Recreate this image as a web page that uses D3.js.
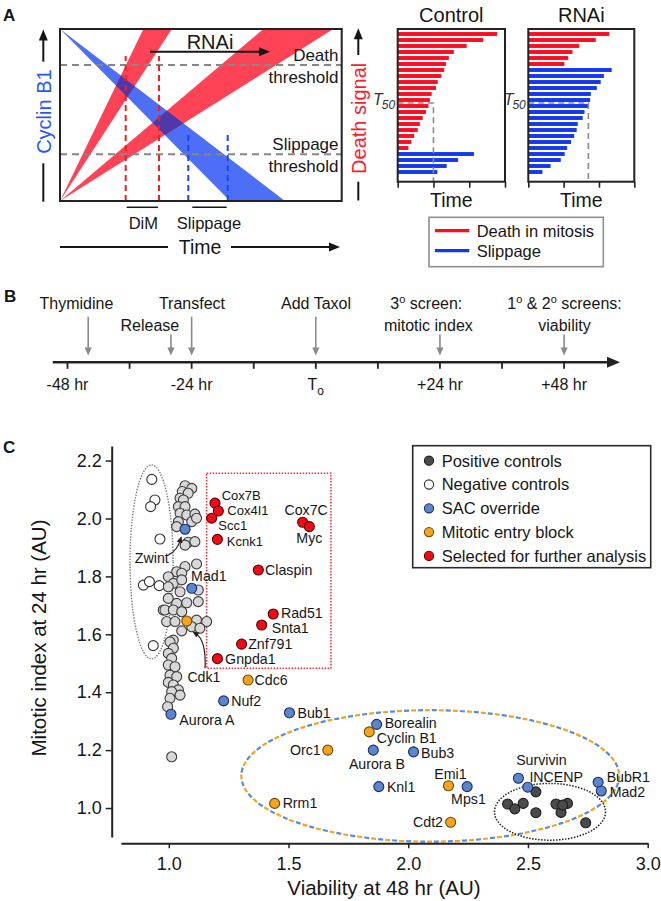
<!DOCTYPE html>
<html>
<head>
<meta charset="utf-8">
<script src="https://cdn.jsdelivr.net/npm/d3@7/dist/d3.min.js"></script>
<style>
html,body{margin:0;padding:0;background:#fff;}
svg{display:block;}
</style>
</head>
<body>
<svg id="fig" width="661" height="901" xmlns="http://www.w3.org/2000/svg"></svg>
<script>
// ================= DATA =================
// Panel A schematic (model units: time 0-1, level 0-1)
const cyclinB1BandEnd = [0.6035, 0.7987];   // time where cyclin B1 band reaches level 0
const deathBandFast = [0.296, 0.397];       // time where fast death band reaches level 1
const deathBandSlow = [0.722, 0.970];       // time where slow (RNAi) death band reaches level 1
const thresholdLevels = [0.791, 0.2715];    // death, slippage
const thresholdNames = [["Death", "threshold"], ["Slippage", "threshold"]];
const dimTimes = [0.2332, 0.3514];
const dimTop = 0.843;
const slippageTimes = [0.4554, 0.5953];
const slippageTop = 0.3837;
const rnaiShift = [0.3195, 0.7455];
const rnaiLevel = 0.868;

// Panel A bar charts (time to fate, AU 0-3)
const timeTicks = [0, 1, 2, 3];
const controlDeath = [2.78, 2.39, 1.93, 1.57, 1.43, 1.35, 1.30, 1.22, 1.12, 1.07, 0.95, 0.90, 0.86, 0.79, 0.70, 0.62, 0.56, 0.46, 0.38, 0.30];
const controlSlip = [2.13, 1.69, 1.37, 1.11];
const rnaiDeath = [2.29, 1.91, 1.44, 1.25, 1.13, 1.02];
const rnaiSlip = [2.36, 2.14, 2.05, 1.94, 1.77, 1.75, 1.71, 1.59, 1.54, 1.40, 1.37, 1.30, 1.21, 1.10, 1.03, 0.92, 0.63, 0.40];
const t50Values = [1.0, 1.70];
const fateNames = ["Death in mitosis", "Slippage"];

// Panel B timeline (hours)
const timelineTicks = [-48, -36, -24, -12, 0, 12, 24, 36, 48];
const timelineLabels = [[-48, "-48 hr"], [-24, "-24 hr"], [0, "T{o}"], [24, "+24 hr"], [48, "+48 hr"]];
const eventHours = [-44, -28, -24, 0, 24, 48];
const eventLabels = [["Thymidine"], [null, "Release"], ["Transfect"], ["Add Taxol"], ["3^o screen:", "mitotic index"], ["1^o & 2^o screens:", "viability"]];

// Panel C scatter: [viability at 48 hr, mitotic index at 24 hr]
const screenHits = [
  [1.068,2.113],[1.096,2.104],[1.056,2.093],[1.081,2.087],[1.047,2.070],[1.061,2.064],[1.040,2.041],[1.068,2.041],
  [1.047,2.018],[1.075,2.012],[1.109,2.015],[1.040,1.989],[1.096,1.989],[1.116,2.001],[1.033,1.972],[1.081,1.918],
  [1.109,1.920],[1.068,1.908],
  [1.068,1.834],[1.116,1.843],[1.033,1.816],[1.054,1.811],[0.998,1.799],[1.019,1.776],[1.054,1.788],[0.998,1.764],
  [1.047,1.747],[1.123,1.753],[0.998,1.724],[1.033,1.707],[1.075,1.709],[1.123,1.713],[0.984,1.684],[1.019,1.684],
  [1.054,1.678],[0.991,1.644],[1.026,1.644],[1.116,1.649],[1.158,1.644],[1.054,1.612],[1.096,1.626],[1.130,1.621],
  [1.019,1.580],
  [1.005,1.574],[1.019,1.552],[0.998,1.534],[1.012,1.517],[0.998,1.494],[1.026,1.488],[1.005,1.459],[1.033,1.454],
  [0.998,1.434],[1.019,1.425],[1.040,1.408],[1.012,1.402],[1.047,1.390],[1.005,1.379],[0.995,1.350],[1.012,1.177]
];
const negativeControls = [[0.929,2.135],[0.942,2.064],[0.924,2.041],[0.963,1.929],[0.894,1.770],[0.919,1.782],[0.960,1.768],[0.977,1.684],[0.935,1.561]];
const positiveControls = [[2.533,1.056],[2.415,1.014],[2.445,0.997],[2.480,1.016],[2.533,0.984],[2.617,1.014],[2.638,0.985],[2.665,1.016],[2.645,1.010],[2.741,0.949]];
const sacOverride = [
  ["Zwint",1.068,1.963],["Mad1",1.096,1.759],["Aurora A",1.009,1.324],["Nuf2",1.229,1.370],["Bub1",1.504,1.329],
  ["Borealin",1.868,1.289],["Aurora B",1.854,1.200],["Bub3",2.022,1.194],["Knl1",1.877,1.074],["Mps1",2.246,1.074],
  ["Survivin",2.460,1.103],["INCENP",2.499,1.072],["BubR1",2.793,1.089],["Mad2",2.806,1.059]
];
const entryBlock = [
  ["Cdk1",1.075,1.646],["Cdc6",1.331,1.442],["Cyclin B1",1.837,1.263],["Orc1",1.664,1.200],["Emi1",2.168,1.077],
  ["Rrm1",1.442,1.016],["Cdt2",2.177,0.951]
];
const selected = [
  ["Cox7B",1.193,2.053],["Cox4I1",1.207,2.026],["Scc1",1.179,2.001],["Kcnk1",1.203,1.928],["Cox7C",1.559,1.987],
  ["Myc",1.587,1.972],["Claspin",1.374,1.822],["Rad51",1.436,1.670],["Snta1",1.388,1.632],["Znf791",1.304,1.566],
  ["Gnpda1",1.203,1.516]
];
const xTicksC = [1.0, 1.5, 2.0, 2.5, 3.0];
const yTicksC = [1.0, 1.2, 1.4, 1.6, 1.8, 2.0, 2.2];
const legendNamesC = ["Positive controls", "Negative controls", "SAC override", "Mitotic entry block", "Selected for further analysis"];
// annotation regions (data units): [cx, cy, rx, ry]
const negRegion = [0.928, 1.850, 0.0898, 0.335];
const posRegion = [2.592, 0.987, 0.232, 0.098];
const slowRegion = [2.092, 1.111, 0.789, 0.227];
const selRegion = [1.158, 1.677, 1.483, 2.156]; // x0, x1, y0, y1

// ================= STYLE / LAYOUT =================
const F = '"Liberation Sans", Arial, Helvetica, sans-serif';
const INK = "#161616";
const svg = d3.select("#fig").attr("font-family", F);
svg.append("rect").attr("width", 661).attr("height", 901).attr("fill", "#fff");
const defs = svg.append("defs");

function tri(g, tx, ty, dx, dy, len, hw, fill) {
  const n = Math.hypot(dx, dy), ux = dx / n, uy = dy / n;
  const bx = tx - ux * len, by = ty - uy * len, px = -uy, py = ux;
  g.append("path").attr("d", `M${tx},${ty}L${bx + px * hw},${by + py * hw}L${bx - px * hw},${by - py * hw}Z`).attr("fill", fill);
}
function text(g, x, y, s, size, opts = {}) {
  return g.append("text").attr("x", x).attr("y", y).attr("font-size", size)
    .attr("text-anchor", opts.anchor || "start").attr("fill", opts.fill || INK)
    .attr("font-weight", opts.weight || "normal").attr("font-style", opts.style || "normal").text(s);
}

// Panel labels
text(svg, 3, 20.7, "A", 17, {weight: "bold"});
text(svg, 4, 301.7, "B", 17, {weight: "bold"});
text(svg, 3, 453.3, "C", 17, {weight: "bold"});

// ================= PANEL A (schematic) =================
const aX = d3.scaleLinear().domain([0, 1]).range([60, 341.7]);
const aY = d3.scaleLinear().domain([0, 1]).range([201, 29]);
const RED = "#ff4357", BLUE = "#4d6ff6", PURPLE = "#4e39aa";
const poly = pts => "M" + pts.map(p => aX(p[0]) + "," + aY(p[1])).join("L") + "Z";
defs.append("clipPath").attr("id", "clipA").append("rect")
  .attr("x", aX(0)).attr("y", aY(1)).attr("width", aX(1) - aX(0)).attr("height", aY(0) - aY(1));
const bluePts = [[0, 1], [cyclinB1BandEnd[0], 0], [cyclinB1BandEnd[1], 0]];
defs.append("clipPath").attr("id", "clipBlue").append("path").attr("d", poly(bluePts));
const redPolys = [deathBandFast, deathBandSlow].map(b => [[0, 0], [b[0], 1], [b[1], 1]]);
const gA = svg.append("g").attr("clip-path", "url(#clipA)");
gA.append("path").attr("d", poly(bluePts)).attr("fill", BLUE);
redPolys.forEach(p => gA.append("path").attr("d", poly(p)).attr("fill", RED));
const ov = gA.append("g").attr("clip-path", "url(#clipBlue)");
redPolys.forEach(p => ov.append("path").attr("d", poly(p)).attr("fill", PURPLE));

thresholdLevels.forEach((t, i) => {
  svg.append("line").attr("x1", aX(0)).attr("x2", aX(1)).attr("y1", aY(t)).attr("y2", aY(t))
    .attr("stroke", "#878787").attr("stroke-width", 2).attr("stroke-dasharray", "7,5");
  text(svg, 338.5, aY(t) - 3.9, thresholdNames[i][0], 17, {anchor: "end"});
  text(svg, 338.5, aY(t) + 17.8, thresholdNames[i][1], 17, {anchor: "end"});
});
dimTimes.forEach(t => svg.append("line").attr("x1", aX(t)).attr("x2", aX(t)).attr("y1", aY(0)).attr("y2", aY(dimTop))
  .attr("stroke", "#ff1a1a").attr("stroke-width", 2).attr("stroke-dasharray", "6,4"));
slippageTimes.forEach(t => svg.append("line").attr("x1", aX(t)).attr("x2", aX(t)).attr("y1", aY(0)).attr("y2", aY(slippageTop))
  .attr("stroke", "#1a45ff").attr("stroke-width", 2).attr("stroke-dasharray", "6,4"));
svg.append("rect").attr("x", aX(0)).attr("y", aY(1)).attr("width", aX(1) - aX(0)).attr("height", aY(0) - aY(1))
  .attr("fill", "none").attr("stroke", "#222").attr("stroke-width", 2);
// RNAi arrow
svg.append("line").attr("x1", aX(rnaiShift[0])).attr("x2", aX(rnaiShift[1]) - 8).attr("y1", aY(rnaiLevel)).attr("y2", aY(rnaiLevel))
  .attr("stroke", INK).attr("stroke-width", 2);
tri(svg, aX(rnaiShift[1]), aY(rnaiLevel), 1, 0, 11, 4.5, INK);
text(svg, (aX(rnaiShift[0]) + aX(rnaiShift[1])) / 2, aY(rnaiLevel) - 2.8, "RNAi", 20, {anchor: "middle"});
// DiM / Slippage brackets
[[dimTimes, "DiM", 1], [slippageTimes, "Slippage", 4]].forEach(([ts, lab, inset]) => {
  svg.append("line").attr("x1", aX(ts[0]) + inset).attr("x2", aX(ts[1]) - 1).attr("y1", 207.3).attr("y2", 207.3)
    .attr("stroke", INK).attr("stroke-width", 1.5);
  text(svg, (aX(ts[0]) + aX(ts[1])) / 2 + 1, 229.2, lab, 16.5, {anchor: "middle"});
});
// Time axis arrow
svg.append("line").attr("x1", 60).attr("x2", 168).attr("y1", 247).attr("y2", 247).attr("stroke", INK).attr("stroke-width", 2);
svg.append("line").attr("x1", 231).attr("x2", 330).attr("y1", 247).attr("y2", 247).attr("stroke", INK).attr("stroke-width", 2);
tri(svg, 340, 247, 1, 0, 11, 4.5, INK);
text(svg, 200, 253.9, "Time", 19.5, {anchor: "middle"});
// Cyclin B1 axis
svg.append("line").attr("x1", 43.3).attr("x2", 43.3).attr("y1", 201.7).attr("y2", 163.3).attr("stroke", INK).attr("stroke-width", 2);
svg.append("line").attr("x1", 43.3).attr("x2", 43.3).attr("y1", 61.7).attr("y2", 38).attr("stroke", INK).attr("stroke-width", 2);
tri(svg, 43.3, 29.5, 0, -1, 11, 4.5, INK);
svg.append("text").attr("transform", "translate(50.5,111.6) rotate(-90)").attr("text-anchor", "middle")
  .attr("font-size", 20).attr("fill", "#1f58ff").text("Cyclin B1");
// Death signal axis
svg.append("line").attr("x1", 358.3).attr("x2", 358.3).attr("y1", 200.5).attr("y2", 181.7).attr("stroke", INK).attr("stroke-width", 2);
svg.append("line").attr("x1", 358.3).attr("x2", 358.3).attr("y1", 55).attr("y2", 37).attr("stroke", INK).attr("stroke-width", 2);
tri(svg, 358.3, 28.3, 0, -1, 11, 4.5, INK);
svg.append("text").attr("transform", "translate(365.5,118.3) rotate(-90)").attr("text-anchor", "middle")
  .attr("font-size", 20).attr("fill", "#ff1a2c").text("Death signal");

// ================= PANEL A (bar charts) =================
const BAR_RED = "#ff0b1f", BAR_BLUE = "#1238f2";
const barY = d3.scaleBand().domain(d3.range(24)).range([31, 175]).paddingInner(0.35).paddingOuter(0.175);
const barPanels = [
  {title: "Control", range: [397.7, 505], death: controlDeath, slip: controlSlip, t50: t50Values[0]},
  {title: "RNAi", range: [528.3, 634.3], death: rnaiDeath, slip: rnaiSlip, t50: t50Values[1]}
];
barPanels.forEach(p => {
  const x = d3.scaleLinear().domain([0, 3]).range(p.range);
  const rows = p.death.map(v => ({v, c: BAR_RED})).concat(p.slip.map(v => ({v, c: BAR_BLUE})));
  const g = svg.append("g");
  g.selectAll("rect.bar").data(rows).join("rect").attr("class", "bar")
    .attr("x", x(0)).attr("y", (d, i) => barY(i)).attr("width", d => x(d.v) - x(0)).attr("height", barY.bandwidth())
    .attr("fill", d => d.c);
  const yT = barY(12) - barY.step() * 0.35 / 2;
  g.append("path").attr("d", `M${x(0)},${yT}H${x(p.t50)}V181.7`).attr("fill", "none")
    .attr("stroke", "#8a8a8a").attr("stroke-width", 1.6).attr("stroke-dasharray", "6,4");
  g.append("rect").attr("x", x(0)).attr("y", 29).attr("width", x(3) - x(0)).attr("height", 152.7)
    .attr("fill", "none").attr("stroke", "#222").attr("stroke-width", 2);
  const ax = d3.axisBottom(x).tickValues(timeTicks).tickSize(6).tickSizeOuter(0).tickFormat("");
  const ga = g.append("g").attr("transform", "translate(0,181.7)").call(ax);
  ga.select(".domain").remove();
  ga.selectAll(".tick line").attr("stroke", "#222").attr("stroke-width", 1.6);
  text(g, (x(0) + x(3)) / 2, 21.7, p.title, 20, {anchor: "middle"});
  text(g, (x(0) + x(3)) / 2, 207, "Time", 19.5, {anchor: "middle"});
  const tl = g.append("text").attr("x", x(0) - 2.5).attr("y", 105).attr("text-anchor", "end")
    .attr("font-style", "italic").attr("fill", "#333").attr("font-size", 16);
  tl.append("tspan").text("T");
  tl.append("tspan").attr("font-size", 12).attr("dy", 4).attr("dx", -1).text("50");
});
// Fate legend
const lg = svg.append("g");
lg.append("rect").attr("x", 429).attr("y", 217.3).attr("width", 174.3).attr("height", 49.4)
  .attr("fill", "#fff").attr("stroke", "#8f8f8f").attr("stroke-width", 1.6);
fateNames.forEach((n, i) => {
  const yy = 230.7 + i * 20;
  lg.append("line").attr("x1", 435).attr("x2", 469.3).attr("y1", yy).attr("y2", yy)
    .attr("stroke", i ? BAR_BLUE : BAR_RED).attr("stroke-width", 3.2);
  text(lg, 476.7, yy + 5.9, n, 16.5);
});

// ================= PANEL B (timeline) =================
const bX = d3.scaleLinear().domain([-48, 48]).range([67.5, 564.1]);
const gB = svg.append("g");
const lineY = 362.3;
gB.append("line").attr("x1", 52.7).attr("x2", 610).attr("y1", lineY).attr("y2", lineY).attr("stroke", "#222").attr("stroke-width", 2.4);
tri(gB, 620, lineY, 1, 0, 13, 5.5, "#222");
timelineTicks.forEach(h => gB.append("line").attr("x1", bX(h)).attr("x2", bX(h)).attr("y1", lineY - 1).attr("y2", lineY + 6.5)
  .attr("stroke", "#222").attr("stroke-width", 1.8));
function richText(el, s, supSize) {
  // "^o" -> superscript o, "{o}" -> subscript o
  const parts = s.split(/(\^o|\{o\})/);
  let raised = false;
  parts.forEach(part => {
    if (part === "^o") { el.append("tspan").attr("font-size", supSize).attr("dy", -6).text("o"); raised = true; }
    else if (part === "{o}") el.append("tspan").attr("font-size", supSize).attr("dy", 5).text("o");
    else if (part.length) {
      const t = el.append("tspan").text(part);
      if (raised) { t.attr("dy", 6); raised = false; }
    }
  });
}
timelineLabels.forEach(([h, s]) => {
  const t = gB.append("text").attr("x", bX(h)).attr("y", 390).attr("text-anchor", "middle").attr("font-size", 16).attr("fill", INK);
  richText(t, s, 12);
});
const eventLabelShift = [-11.8, -21.1, 0.3, 0.2, -13.6, 0.4];
eventHours.forEach((h, i) => {
  const labs = eventLabels[i];
  const rows = labs.length;
  labs.forEach((s, r) => {
    if (!s) return;
    const t = gB.append("text").attr("x", bX(h) + eventLabelShift[i] + (r === 1 && i === 4 ? 2 : 0))
      .attr("y", 309 + r * 22.4).attr("text-anchor", "middle").attr("font-size", 16).attr("fill", INK);
    richText(t, s, 11);
  });
  const top = rows > 1 ? 334.6 : 316.7;
  gB.append("line").attr("x1", bX(h)).attr("x2", bX(h)).attr("y1", top).attr("y2", 348)
    .attr("stroke", "#8a8a8a").attr("stroke-width", 1.6);
  tri(gB, bX(h), 355.5, 0, 1, 8, 3.6, "#8a8a8a");
});

// ================= PANEL C (scatter) =================
const xC = d3.scaleLinear().domain([0.8, 3.0]).range([120.9, 647.7]);
const yC = d3.scaleLinear().domain([0.9, 2.25]).range([837, 446.1]);
const gC = svg.append("g");
// annotation regions
function ell(g, r) {
  return g.append("ellipse").attr("cx", xC(r[0])).attr("cy", yC(r[1]))
    .attr("rx", xC(r[0] + r[2]) - xC(r[0])).attr("ry", yC(r[1]) - yC(r[1] + r[3])).attr("fill", "none");
}
ell(gC, negRegion).attr("stroke", "#7a7a7a").attr("stroke-width", 1.4).attr("stroke-dasharray", "1.4,1.4");
ell(gC, slowRegion).attr("stroke", "#5b8ad6").attr("stroke-width", 2.2).attr("stroke-dasharray", "5,9").attr("stroke-dashoffset", -7);
ell(gC, slowRegion).attr("stroke", "#f5a51b").attr("stroke-width", 2.2).attr("stroke-dasharray", "5,9");
gC.append("rect").attr("x", xC(selRegion[0])).attr("y", yC(selRegion[3]))
  .attr("width", xC(selRegion[1]) - xC(selRegion[0])).attr("height", yC(selRegion[2]) - yC(selRegion[3]))
  .attr("fill", "none").attr("stroke", "#ff2a3a").attr("stroke-width", 1.5).attr("stroke-dasharray", "1.5,1.5");
ell(gC, posRegion).attr("stroke", "#222").attr("stroke-width", 1.5).attr("stroke-dasharray", "1.5,1.5");

// axes
const gx = gC.append("g").attr("transform", "translate(0,843.3)")
  .call(d3.axisBottom(xC).tickValues(xTicksC).tickFormat(d3.format(".1f")).tickSize(5).tickSizeOuter(0).tickPadding(8.5));
gx.attr("font-family", F).attr("font-size", 18);
gx.select(".domain").attr("stroke", "#222").attr("stroke-width", 2);
gx.selectAll(".tick line").attr("stroke", "#222").attr("stroke-width", 1.5);
gx.selectAll(".tick text").attr("fill", INK);
const gy = gC.append("g").attr("transform", "translate(111.7,0)")
  .call(d3.axisLeft(yC).tickValues(yTicksC).tickFormat(d3.format(".1f")).tickSize(6).tickSizeOuter(0).tickPadding(4));
gy.attr("font-family", F).attr("font-size", 18);
gy.select(".domain").attr("stroke", "#222").attr("stroke-width", 2);
gy.selectAll(".tick line").attr("stroke", "#222").attr("stroke-width", 1.5);
gy.selectAll(".tick text").attr("fill", INK);
text(gC, 384, 895, "Viability at 48 hr (AU)", 20.5, {anchor: "middle"});
gC.append("text").attr("transform", "translate(45.5,638) rotate(-90)").attr("text-anchor", "middle")
  .attr("font-size", 20.5).attr("fill", INK).text("Mitotic index at 24 hr (AU)");

// points
const R = 5;
const STY = {
  grey: ["#d8d8d8", "#3a3a3a"], neg: ["#ffffff", "#333"], pos: ["#4a4a4a", "#1e1e1e"],
  sac: ["#5b86c9", "#1c2a78"], entry: ["#f6a41c", "#6e4a08"], sel: ["#f20a16", "#5a0000"]
};
function dots(data, sty, acc) {
  gC.append("g").selectAll("circle").data(data).join("circle")
    .attr("cx", d => xC(acc(d)[0])).attr("cy", d => yC(acc(d)[1])).attr("r", R)
    .attr("fill", STY[sty][0]).attr("stroke", STY[sty][1]).attr("stroke-width", 1.1);
}
dots(negativeControls, "neg", d => d);
dots(screenHits, "grey", d => d);
dots(positiveControls, "pos", d => d);
dots(sacOverride, "sac", d => [d[1], d[2]]);
dots(entryBlock, "entry", d => [d[1], d[2]]);
dots(selected, "sel", d => [d[1], d[2]]);

// labels: [dx, dy(center), anchor, fontSize?]
const labelPos = {
  "Cox7B": [6.7, -8, "start", 13], "Cox4I1": [9, -0.5, "start", 13], "Scc1": [6.6, 7.4, "start", 13], "Kcnk1": [9.4, 1.6, "start", 13],
  "Cox7C": [3.5, -12.3, "middle"], "Myc": [0, 11.6, "middle"], "Claspin": [6.7, 0, "start"], "Rad51": [7.7, -0.9, "start"],
  "Snta1": [10, 2.6, "start"], "Znf791": [6.6, -0.7, "start"], "Gnpda1": [7.7, 0, "start"],
  "Zwint": [-33.3, 29, "middle"], "Mad1": [-0.7, -12.6, "start"], "Aurora A": [8.4, 5.7, "start"], "Nuf2": [7.6, 0, "start"],
  "Bub1": [8, 0, "start"], "Borealin": [8, -1.6, "start"], "Aurora B": [3.6, 13.3, "middle"], "Bub3": [7.6, 0.6, "start"],
  "Knl1": [8.1, 0, "start"], "Mps1": [1.3, 12.3, "middle"], "Survivin": [23, -18, "middle"], "INCENP": [1.7, -10.5, "start"],
  "BubR1": [8.5, -5.8, "start"], "Mad2": [8.4, 1, "start"],
  "Cdk1": [17.2, 55.7, "middle"], "Cdc6": [6.5, 0, "start"], "Cyclin B1": [7.6, 6, "start"], "Orc1": [-7.1, 0, "end"],
  "Emi1": [1.9, -11.7, "middle"], "Rrm1": [8, 0, "start"], "Cdt2": [-7.6, 0, "end"]
};
const LFS = 14.2;
[...sacOverride, ...entryBlock, ...selected].forEach(d => {
  const p = labelPos[d[0]];
  const fs = p[3] || LFS;
  text(gC, xC(d[1]) + p[0], yC(d[2]) + p[1] + 0.358 * fs, d[0], fs, {anchor: p[2]});
});
// callout arrows (relative to the point)
const callouts = {"Zwint": [[-16.7, 25.7], [-8, 21.5], [-3.6, 7]], "Cdk1": [[18.3, 47.3], [19.5, 19], [5.6, 10.6]]};
[...sacOverride, ...entryBlock].forEach(d => {
  const c = callouts[d[0]];
  if (!c) return;
  const px = xC(d[1]), py = yC(d[2]);
  const [a, b, e] = c;
  gC.append("path").attr("d", `M${px + a[0]},${py + a[1]}Q${px + b[0]},${py + b[1]} ${px + e[0] + (b[0] - e[0]) * 0.25},${py + e[1] + (b[1] - e[1]) * 0.25}`)
    .attr("fill", "none").attr("stroke", "#222").attr("stroke-width", 1.2);
  tri(gC, px + e[0], py + e[1], e[0] - b[0], e[1] - b[1], 6.5, 3, "#222");
});

// legend
const gL = svg.append("g");
gL.append("rect").attr("x", 412.7).attr("y", 445.7).attr("width", 238).attr("height", 122)
  .attr("fill", "#fff").attr("stroke", "#2a2a2a").attr("stroke-width", 1.6);
const legendSty = ["pos", "neg", "sac", "entry", "sel"];
legendNamesC.forEach((n, i) => {
  const yy = 460.7 + i * 23.8;
  gL.append("circle").attr("cx", 429).attr("cy", yy).attr("r", 4.6)
    .attr("fill", STY[legendSty[i]][0]).attr("stroke", STY[legendSty[i]][1]).attr("stroke-width", 1.1);
  text(gL, 441.7, yy + 5.8, n, 16.5);
});
</script>
</body>
</html>
